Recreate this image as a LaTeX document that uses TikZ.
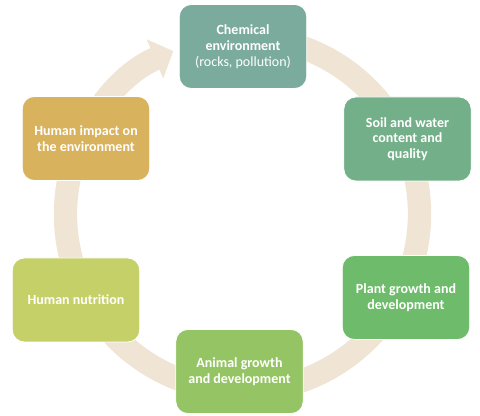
\documentclass[tikz,border=0pt]{standalone}
\usepackage{fontspec}
\setmainfont{Carlito}
\usetikzlibrary{arrows.meta}
\definecolor{ringc}{RGB}{240,228,213}
\definecolor{cChem}{RGB}{122,171,156}
\definecolor{cSoil}{RGB}{115,176,137}
\definecolor{cPlant}{RGB}{110,187,107}
\definecolor{cAnimal}{RGB}{149,196,101}
\definecolor{cNutr}{RGB}{197,208,104}
\definecolor{cImpact}{RGB}{217,178,94}
\tikzset{
  cyclebox/.style={rounded corners=9pt, draw=white, line width=0.6pt,
    minimum width=95.5pt, minimum height=63pt, text=white, align=center,
    font=\fontsize{10.5}{11.8}\selectfont\bfseries, inner sep=2pt},
  ringline/.style={draw=ringc, line width=17.5pt,
    -{Triangle[width=31pt,length=15pt]}}
}
\begin{document}
\begin{tikzpicture}[x=0.75pt,y=-0.75pt]
\useasboundingbox (0,0) rectangle (480,416);
\coordinate (cen) at (242.5,214);
\draw[ringline] ([shift={(-80:177)}]cen) arc[start angle=-80, end angle=247, radius=177];
\node[cyclebox, fill=cChem] (chem) at (243,46.5) {Chemical\\environment\\{\mdseries (rocks, pollution)}};
\node[cyclebox, fill=cSoil] (soil) at (407.5,139) {Soil and water\\content and\\quality};
\node[cyclebox, fill=cPlant] (plant) at (406,297.5) {Plant growth and\\development};
\node[cyclebox, fill=cAnimal] (animal) at (239.5,371.5) {Animal growth\\and development};
\node[cyclebox, fill=cNutr] (nutr) at (76,300) {Human nutrition};
\node[cyclebox, fill=cImpact] (impact) at (86,138.5) {Human impact on\\the environment};
\end{tikzpicture}
\end{document}
